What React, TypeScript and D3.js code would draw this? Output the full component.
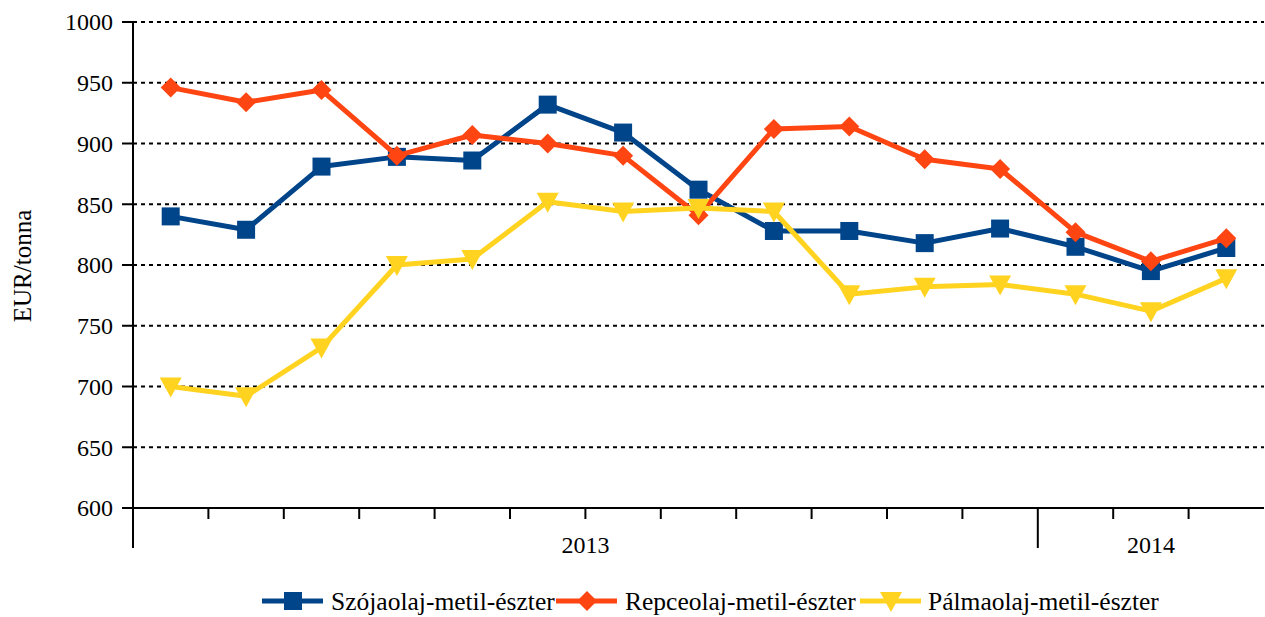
import * as d3 from "d3";

const months = [
  "2013-01", "2013-02", "2013-03", "2013-04", "2013-05", "2013-06", "2013-07", "2013-08",
  "2013-09", "2013-10", "2013-11", "2013-12", "2014-01", "2014-02", "2014-03",
];

const szoja = [840, 829, 881, 889, 886, 932, 909, 862, 828, 828, 818, 830, 815, 795, 814];
const repce = [946, 934, 944, 890, 907, 900, 890, 841, 912, 914, 887, 879, 827, 803, 822];
const palma = [700, 692, 732, 800, 805, 852, 844, 847, 844, 776, 782, 784, 776, 762, 789];

const yTicks = [600, 650, 700, 750, 800, 850, 900, 950, 1000];
const years = [
  { label: "2013", from: 0, to: 12 },
  { label: "2014", from: 12, to: 15 },
];

const series = [
  { name: "Szójaolaj-metil-észter", values: szoja, color: "#00448a", marker: "square" },
  { name: "Repceolaj-metil-észter", values: repce, color: "#ff4512", marker: "diamond" },
  { name: "Pálmaolaj-metil-észter", values: palma, color: "#ffd320", marker: "triangle" },
];

const font = "Liberation Serif";

function Marker({ type, x, y, color }: { type: string; x: number; y: number; color: string }) {
  if (type === "square") {
    return <rect x={x - 9} y={y - 9} width={18} height={18} fill={color} />;
  }
  if (type === "diamond") {
    return <path d={`M${x},${y - 10}L${x + 10},${y}L${x},${y + 10}L${x - 10},${y}Z`} fill={color} />;
  }
  return <path d={`M${x - 11},${y - 9}L${x + 11},${y - 9}L${x},${y + 11}Z`} fill={color} />;
}

export default function App() {
  const width = 1265;
  const height = 617;
  const left = 133;
  const right = 1264;
  const top = 22;
  const bottom = 508;

  const x = d3.scaleLinear().domain([0, months.length]).range([left, right]);
  const y = d3.scaleLinear().domain([600, 1000]).range([bottom, top]);
  const cx = (i: number) => x(i + 0.5);

  const line = d3
    .line<number>()
    .x((_, i) => cx(i))
    .y((d) => y(d));

  const legendItems = [
    { x: 262, textX: 331 },
    { x: 556, textX: 625 },
    { x: 860, textX: 928 },
  ];

  return (
    <svg width={width} height={height} style={{ position: "absolute", left: 0, top: 0 }}>
      <rect width={width} height={height} fill="#fff" />

      {/* grid + y ticks */}
      {yTicks.map((t) => (
        <g key={t}>
          {t !== 600 && (
            <line x1={left} x2={right} y1={y(t)} y2={y(t)} stroke="#000" strokeWidth={2} strokeDasharray="4,4" />
          )}
          <line x1={left - 11} x2={left} y1={y(t)} y2={y(t)} stroke="#000" strokeWidth={2} />
          <text x={left - 20} y={y(t)} dy="0.35em" textAnchor="end" fontSize={24} fontFamily={font}>
            {t}
          </text>
        </g>
      ))}

      {/* axes */}
      <line x1={left - 11} x2={right} y1={bottom} y2={bottom} stroke="#000" strokeWidth={2} />
      <line x1={left} x2={left} y1={top} y2={548} stroke="#000" strokeWidth={2} />

      {d3.range(1, months.length).map((i) => {
        const major = years.some((yr) => yr.from === i);
        return (
          <line key={i} x1={x(i)} x2={x(i)} y1={bottom} y2={major ? 548 : 519} stroke="#000" strokeWidth={2} />
        );
      })}
      {years.map((yr) => (
        <text key={yr.label} x={(x(yr.from) + x(yr.to)) / 2} y={553} textAnchor="middle" fontSize={24} fontFamily={font}>
          {yr.label}
        </text>
      ))}

      <text transform={`translate(22,266) rotate(-90)`} textAnchor="middle" fontSize={25} dy="0.35em" fontFamily={font}>
        EUR/tonna
      </text>

      {/* series */}
      {series.map((s) => (
        <g key={s.name}>
          <path d={line(s.values) || ""} fill="none" stroke={s.color} strokeWidth={5} strokeLinejoin="round" />
          {s.values.map((v, i) => (
            <Marker key={i} type={s.marker} x={cx(i)} y={y(v)} color={s.color} />
          ))}
        </g>
      ))}

      {/* legend */}
      {series.map((s, i) => (
        <g key={s.name}>
          <line x1={legendItems[i].x} x2={legendItems[i].x + 61} y1={601} y2={601} stroke={s.color} strokeWidth={5} />
          <Marker type={s.marker} x={legendItems[i].x + 31} y={601} color={s.color} />
          <text x={legendItems[i].textX} y={601} dy="0.35em" fontSize={25.5} fontFamily={font}>
            {s.name}
          </text>
        </g>
      ))}
    </svg>
  );
}
